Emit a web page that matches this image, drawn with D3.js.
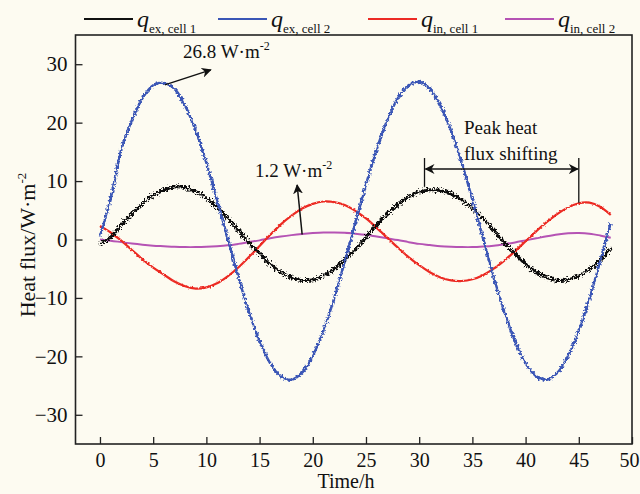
<!DOCTYPE html>
<html>
<head>
<meta charset="utf-8">
<script src="https://cdn.jsdelivr.net/npm/d3@7/dist/d3.min.js"></script>
<style>
  html, body { margin: 0; padding: 0; background: #fdfbf1; }
  svg { display: block; }
  text { font-family: "Liberation Serif", "Times New Roman", serif; fill: #111; }
</style>
</head>
<body>
<svg id="chart" width="640" height="494"></svg>
<script>
// Hourly heat flux readings, W·m⁻², over 48 h
const hours = d3.range(0, 49);
const qExCell1 = [-0.6, 0.4, 2.5, 4.4, 6.2, 7.6, 8.5, 9.0, 8.9, 8.2, 7.1, 5.5, 3.7, 1.6, -0.5, -2.4, -4.2, -5.6, -6.5, -7.0, -6.9, -6.2, -5.1, -3.5, -1.7,
  0.4, 2.5, 4.4, 6.0, 7.3, 8.1, 8.5, 8.4, 7.8, 6.8, 5.3, 3.6, 1.6, -0.5, -2.4, -4.2, -5.6, -6.5, -7.0, -6.9, -6.2, -5.1, -3.5, -1.5];
const qExCell2 = [0.5, 7.0, 15.4, 20.4, 24.2, 26.4, 26.8, 25.8, 22.9, 18.6, 13.1, 6.8, 0.2, -6.4, -12.4, -17.4, -21.2, -23.4, -24.0, -22.8, -19.9, -15.6, -10.1, -3.8, 2.8,
  9.4, 15.4, 20.4, 24.2, 26.4, 27.0, 25.8, 22.9, 18.6, 13.1, 6.8, 0.2, -6.4, -12.4, -17.4, -21.2, -23.4, -24.0, -22.8, -19.9, -15.6, -10.1, -3.8, 2.8];
const qInCell1 = [2.3, 1.2, -0.2, -1.8, -3.4, -4.8, -6.0, -7.2, -8.0, -8.4, -8.2, -7.5, -6.3, -4.8, -3.0, -1.1, 0.8, 2.6, 4.1, 5.3, 6.1, 6.5, 6.4, 5.9, 4.9,
  3.6, 2.0, 0.3, -1.4, -3.0, -4.4, -5.6, -6.5, -7.0, -7.1, -6.8, -6.1, -5.0, -3.6, -2.0, -0.3, 1.4, 3.0, 4.4, 5.5, 6.2, 6.3, 5.6, 4.2];
const qInCell2 = [0.0, -0.2, -0.45, -0.7, -0.9, -1.05, -1.15, -1.25, -1.3, -1.3, -1.25, -1.15, -1.0, -0.75, -0.45, -0.15, 0.2, 0.5, 0.75, 0.95, 1.1, 1.2, 1.2, 1.15, 1.0,
  0.8, 0.5, 0.2, -0.1, -0.45, -0.75, -0.95, -1.15, -1.25, -1.3, -1.3, -1.2, -1.05, -0.8, -0.5, -0.15, 0.2, 0.55, 0.85, 1.05, 1.1, 1.0, 0.7, 0.3];

const xTicks = [0, 5, 10, 15, 20, 25, 30, 35, 40, 45, 50];
const yTicks = [-30, -20, -10, 0, 10, 20, 30];

// Legend entries: italic symbol plus roman subscript
const seriesNames = ["ex, cell 1", "ex, cell 2", "in, cell 1", "in, cell 2"];
const seriesColors = ["#111111", "#3a56b6", "#ec2a24", "#b552b4"];
const seriesData = [qExCell1, qExCell2, qInCell1, qInCell2];

// Annotated peak values
const peakEx2 = { t: 6, v: 26.8 };
const peakIn2 = { t: 19, v: 1.2 };
const shiftFrom = { t: 30.5, v: 8.5 };
const shiftTo = { t: 45, v: 6.3 };

const svg = d3.select("#chart");
const pLeft = 75.5, pRight = 632, pTop = 35, pBottom = 444;

const x = d3.scaleLinear().domain([-2.3, 50]).range([pLeft, pRight]);
const y = d3.scaleLinear().domain([-35, 35]).range([pBottom, pTop]);

const defs = svg.append("defs");
defs.append("clipPath").attr("id", "plotClip")
  .append("rect").attr("x", pLeft).attr("y", pTop).attr("width", pRight - pLeft).attr("height", pBottom - pTop);

// Jitter filters give the measured traces their ragged look
function jitter(id, scale, freq) {
  const f = defs.append("filter").attr("id", id)
    .attr("x", "-5%").attr("y", "-5%").attr("width", "110%").attr("height", "110%");
  f.append("feTurbulence").attr("type", "fractalNoise").attr("baseFrequency", freq)
    .attr("numOctaves", 2).attr("seed", 3).attr("result", "n");
  f.append("feDisplacementMap").attr("in", "SourceGraphic").attr("in2", "n")
    .attr("scale", scale).attr("xChannelSelector", "R").attr("yChannelSelector", "G");
}
jitter("jBlack", 8, 0.55);
jitter("jBlue", 5, 0.45);
jitter("jRed", 2.5, 0.5);
jitter("jPink", 1.5, 0.5);

// Axes with inward ticks
const xAxis = d3.axisBottom(x).tickValues(xTicks).tickSizeInner(-7).tickSizeOuter(0).tickPadding(9);
const yAxis = d3.axisLeft(y).tickValues(yTicks).tickSizeInner(-7).tickSizeOuter(0).tickPadding(8);

const gx = svg.append("g").attr("transform", `translate(0,${pBottom})`).call(xAxis);
const gy = svg.append("g").attr("transform", `translate(${pLeft},0)`).call(yAxis);
[gx, gy].forEach(g => {
  g.select(".domain").remove();
  g.selectAll(".tick line").attr("stroke", "#222").attr("stroke-width", 1.3);
  g.selectAll(".tick text").style("font-family", '"Liberation Serif", serif').style("font-size", "20px").attr("fill", "#111");
});
gy.selectAll(".tick text").style("font-size", "21px");
// keep the last time label inside the page edge
gx.selectAll(".tick text").filter(d => d === 50).attr("dx", -3);

// Series lines
const line = d3.line().x((d, i) => x(hours[i])).y(d => y(d)).curve(d3.curveCatmullRom);
const plot = svg.append("g").attr("clip-path", "url(#plotClip)");
const filters = ["jBlack", "jBlue", "jRed", "jPink"];
const widths = [3.0, 2.5, 2.2, 2.0];
[3, 2, 0, 1].forEach(k => {
  plot.append("path")
    .attr("d", line(seriesData[k]))
    .attr("fill", "none")
    .attr("stroke", seriesColors[k])
    .attr("stroke-width", widths[k])
    .attr("filter", `url(#${filters[k]})`);
});

// Frame
svg.append("rect").attr("x", pLeft).attr("y", pTop).attr("width", pRight - pLeft).attr("height", pBottom - pTop)
  .attr("fill", "none").attr("stroke", "#222").attr("stroke-width", 1.6);

// Arrow markers
defs.append("marker").attr("id", "arrowHead").attr("viewBox", "0 0 10 10")
  .attr("refX", 9).attr("refY", 5).attr("markerWidth", 10).attr("markerHeight", 10)
  .attr("markerUnits", "userSpaceOnUse").attr("orient", "auto-start-reverse")
  .append("path").attr("d", "M0,0 L10,5 L0,10 L3,5 Z").attr("fill", "#111");

const ann = svg.append("g");

// 26.8 W·m⁻² peak callout
ann.append("line")
  .attr("x1", x(peakEx2.t) + 1).attr("y1", y(peakEx2.v) + 2)
  .attr("x2", x(peakEx2.t) + 47).attr("y2", y(peakEx2.v) - 13)
  .attr("stroke", "#111").attr("stroke-width", 1.5).attr("marker-end", "url(#arrowHead)");
const t1 = ann.append("text").attr("x", 183).attr("y", 58).style("font-size", "19px");
t1.append("tspan").text(peakEx2.v.toFixed(1) + " W·m");
t1.append("tspan").attr("dy", -8).style("font-size", "12px").text("-2");

// 1.2 W·m⁻² peak callout
ann.append("line")
  .attr("x1", x(peakIn2.t)).attr("y1", y(peakIn2.v) + 2)
  .attr("x2", x(peakIn2.t) - 5).attr("y2", 185)
  .attr("stroke", "#111").attr("stroke-width", 1.5).attr("marker-end", "url(#arrowHead)");
const t2 = ann.append("text").attr("x", 255).attr("y", 177).style("font-size", "19px");
t2.append("tspan").text(peakIn2.v.toFixed(1) + " W·m");
t2.append("tspan").attr("dy", -8).style("font-size", "12px").text("-2");

// Peak shift bracket between the two cells
const yBracket = 169;
ann.append("line").attr("x1", x(shiftFrom.t)).attr("x2", x(shiftFrom.t))
  .attr("y1", 158).attr("y2", y(shiftFrom.v) - 3).attr("stroke", "#111").attr("stroke-width", 1.3);
ann.append("line").attr("x1", x(shiftTo.t)).attr("x2", x(shiftTo.t))
  .attr("y1", 158).attr("y2", y(shiftTo.v)).attr("stroke", "#111").attr("stroke-width", 1.3);
ann.append("line").attr("x1", x(shiftFrom.t) + 1).attr("x2", x(shiftTo.t) - 1)
  .attr("y1", yBracket).attr("y2", yBracket).attr("stroke", "#111").attr("stroke-width", 1.4)
  .attr("marker-start", "url(#arrowHead)").attr("marker-end", "url(#arrowHead)");
ann.append("text").attr("x", 464).attr("y", 134).style("font-size", "19px").text("Peak heat");
ann.append("text").attr("x", 464).attr("y", 160).style("font-size", "19px").text("flux shifting");

// Axis titles
svg.append("text").attr("x", 346).attr("y", 488).attr("text-anchor", "middle").style("font-size", "20px").text("Time/h");
const yt = svg.append("text").attr("transform", "translate(35,245) rotate(-90)").attr("text-anchor", "middle").style("font-size", "22px");
yt.append("tspan").text("Heat flux/W·m");
yt.append("tspan").attr("dy", -9).style("font-size", "13px").text("-2");

// Legend
const legendX = [84, 218, 368, 505];
const lg = svg.append("g");
seriesNames.forEach((name, i) => {
  const g = lg.append("g").attr("transform", `translate(${legendX[i]},19)`);
  g.append("line").attr("x1", 0).attr("x2", 49).attr("y1", 0).attr("y2", 0)
    .attr("stroke", seriesColors[i]).attr("stroke-width", 2.2);
  const t = g.append("text").attr("x", 53).attr("y", 8);
  t.append("tspan").style("font-style", "italic").style("font-size", "24px").text("q");
  t.append("tspan").attr("dy", 6).style("font-size", "13px").text(name);
});
</script>
</body>
</html>
